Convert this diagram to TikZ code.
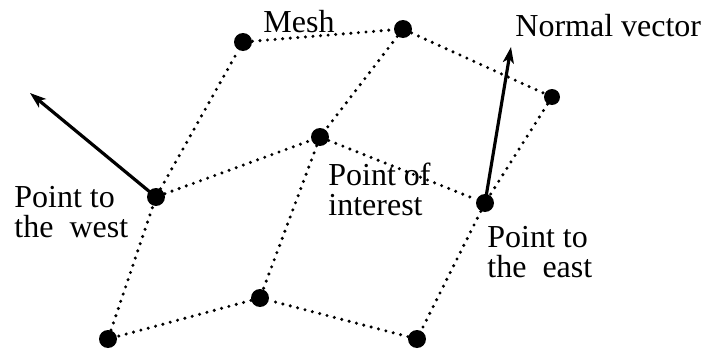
\documentclass[tikz,border=0pt]{standalone}
\usepackage{fontspec}
\setmainfont{Liberation Serif}
\usetikzlibrary{arrows.meta}
\tikzset{
  >={Stealth[length=8pt,width=5.5pt,inset=2pt]},
  pt/.style={circle,fill=black,inner sep=0pt,minimum size=#1},
  pt/.default=9pt,
  mesh/.style={line width=1.7pt,line cap=round,dash pattern=on 0pt off 3.8pt},
  normal/.style={->,line width=1.6pt},
  tag/.style={font=\fontsize{16}{15}\selectfont,inner sep=0pt,align=left},
}

\begin{document}
\begin{tikzpicture}[x=0.5pt,y=-0.5pt]
  \useasboundingbox (0,0) rectangle (709,354);
  % mesh points
  \node[pt] (nw) at (243,42) {};
  \node[pt] (n) at (403,29) {};
  \node[pt=8pt] (ne) at (552,97) {};
  \node[pt] (poi) at (320,137) {};
  \node[pt] (west) at (156,197) {};
  \node[pt] (east) at (485,203) {};
  \node[pt] (s) at (260,298) {};
  \node[pt] (sw) at (108,339) {};
  \node[pt] (se) at (417,339) {};
  % mesh edges
  \draw[mesh] (nw) -- (n) -- (ne) -- (east) -- (se) -- (s) -- (sw) -- (west) -- (nw);
  \draw[mesh] (n) -- (poi) -- (s);
  \draw[mesh] (west) -- (poi) -- (east);
  % normals
  \coordinate (wtip) at (30,93);
  \coordinate (etip) at (511,47);
  \draw[normal] (west.center) -- (wtip);
  \draw[normal] (east.center) -- (etip);
  % labels
  \node[tag,anchor=base west] (meshlbl) at (263,32) {Mesh};
  \node[tag,anchor=base west] (normlbl) at (515,36) {Normal vector};
  \node[tag,anchor=north west] (westlbl) at (14,186) {Point to\\the\enspace west};
  \node[tag,anchor=north west] (poilbl) at (328,163) {Point of\\interest};
  \node[tag,anchor=north west] (eastlbl) at (487,226) {Point to\\the\enspace east};
\end{tikzpicture}
\end{document}
